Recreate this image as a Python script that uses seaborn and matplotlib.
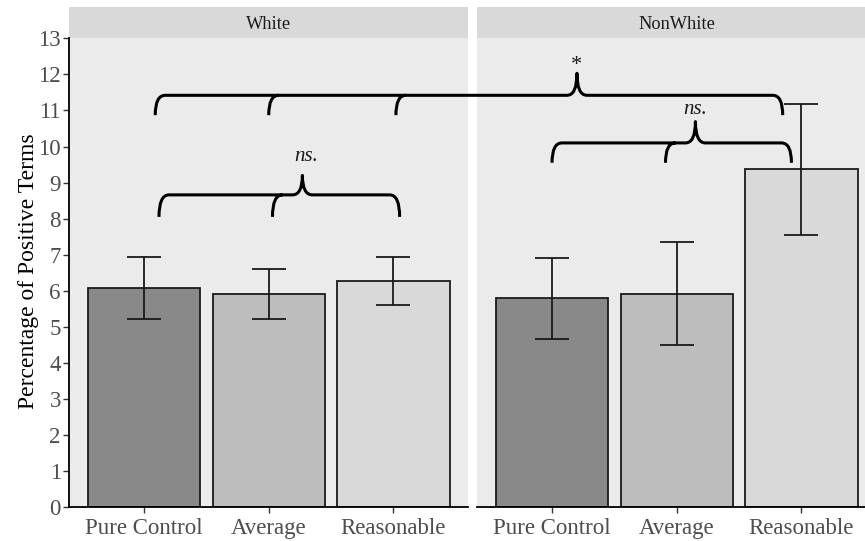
import numpy as np
import pandas as pd
import matplotlib
matplotlib.use('Agg')
import matplotlib.pyplot as plt
import seaborn as sns
from matplotlib.path import Path
from matplotlib.patches import PathPatch, Rectangle

# Data
conditions = ['Pure Control', 'Average', 'Reasonable']
panels = ['White', 'NonWhite']
white_mean = [6.07, 5.91, 6.28]
white_lo = [5.21, 5.23, 5.62]
white_hi = [6.95, 6.60, 6.95]
nonwhite_mean = [5.79, 5.92, 9.38]
nonwhite_lo = [4.66, 4.49, 7.56]
nonwhite_hi = [6.91, 7.34, 11.19]
bar_colors = ['#898989', '#bdbdbd', '#d9d9d9']

df = pd.DataFrame({
    'Race': ['White'] * 3 + ['NonWhite'] * 3,
    'Condition': conditions * 2,
    'Mean': white_mean + nonwhite_mean,
    'Lo': white_lo + nonwhite_lo,
    'Hi': white_hi + nonwhite_hi,
})

sns.set_style('white')
plt.rcParams['font.family'] = ['Liberation Serif', 'DejaVu Serif']

W, H = 865, 541
fig = plt.figure(figsize=(W / 100, H / 100), dpi=100)

# panel geometry in pixels
unit = 124.7
left_px = [69.2, 477.2]
panel_w = 3.2 * unit
y0_px, y1_px = 507.3, 38.3
axes = []
for lp in left_px:
    ax = fig.add_axes([lp / W, (H - y0_px) / H, panel_w / W, (y0_px - y1_px) / H])
    axes.append(ax)

for i, (ax, race) in enumerate(zip(axes, panels)):
    sub = df[df['Race'] == race]
    sns.barplot(data=sub, x='Condition', y='Mean', hue='Condition', order=conditions,
                hue_order=conditions, palette=bar_colors, width=0.9, errorbar=None,
                edgecolor='#1a1a1a', linewidth=1.3, legend=False, ax=ax)
    xs = np.arange(len(conditions))
    ax.errorbar(xs, sub['Mean'], yerr=[sub['Mean'] - sub['Lo'], sub['Hi'] - sub['Mean']],
                fmt='none', ecolor='#1a1a1a', elinewidth=1.3, capsize=12, capthick=1.3)
    ax.set_facecolor('#ebebeb')
    ax.set_xlim(-0.6, 2.6)
    ax.set_ylim(0, 13)
    ax.set_yticks(range(0, 14))
    ax.set_xlabel('')
    ax.set_ylabel('')
    for s in ax.spines.values():
        s.set_visible(False)
    ax.spines['bottom'].set_visible(True)
    ax.spines['bottom'].set_color('black')
    ax.spines['bottom'].set_linewidth(1.3)
    ax.tick_params(axis='both', length=4, width=1, color='#333333',
                   labelsize=16.5, labelcolor='#4d4d4d', pad=2)
    ax.tick_params(axis='x', bottom=True, pad=4)
    if i == 0:
        ax.spines['left'].set_visible(True)
        ax.spines['left'].set_color('black')
        ax.spines['left'].set_linewidth(1.3)
        ax.tick_params(axis='y', left=True)
    else:
        ax.set_yticklabels([])
        ax.tick_params(axis='y', left=False)
    # facet strip
    strip_h = 31 / (y0_px - y1_px)
    ax.add_patch(Rectangle((0, 1), 1, strip_h, transform=ax.transAxes,
                           facecolor='#d9d9d9', edgecolor='none', clip_on=False))
    ax.text(0.5, 1 + strip_h / 2 - 0.004, race, transform=ax.transAxes, ha='center',
            va='center', fontsize=13.2, color='#1a1a1a')

fig.text(29 / W, 1 - 271 / H, 'Percentage of Positive Terms', rotation=90,
         ha='center', va='center', fontsize=17, color='black')

# left panel on top so the wide brace is drawn over the right panel
axes[0].set_zorder(3)

# offset to express right-panel x in left-panel data units
shift = (left_px[1] - left_px[0]) / unit


def brace(ax, x0, x1, y_line, y_end, tip_x, tip_y, hooks, dx=0.08):
    verts, codes = [], []
    verts += [(x0, y_end), (x0, y_line), (x0 + dx, y_line)]
    codes += [Path.MOVETO, Path.CURVE3, Path.CURVE3]
    verts += [(tip_x - dx, y_line), (tip_x, y_line), (tip_x, tip_y)]
    codes += [Path.LINETO, Path.CURVE3, Path.CURVE3]
    verts += [(tip_x, y_line), (tip_x + dx, y_line)]
    codes += [Path.CURVE3, Path.CURVE3]
    verts += [(x1 - dx, y_line), (x1, y_line), (x1, y_end)]
    codes += [Path.LINETO, Path.CURVE3, Path.CURVE3]
    for h in hooks:
        verts += [(h + dx, y_line), (h, y_line), (h, y_end)]
        codes += [Path.MOVETO, Path.CURVE3, Path.CURVE3]
    ax.add_patch(PathPatch(Path(verts, codes), fill=False, edgecolor='black',
                           linewidth=2.2, clip_on=False, capstyle='butt',
                           joinstyle='round', zorder=5))


axL, axR = axes
# White: ns.
brace(axL, 0.12, 2.05, 8.66, 8.05, 1.27, 9.2, [1.03])
axL.text(1.30, 9.72, 'ns.', ha='center', va='center', fontsize=15, style='italic',
         color='#1a1a1a')
# NonWhite: ns.
brace(axR, 0.0, 1.92, 10.1, 9.55, 1.15, 10.69, [0.91])
axR.text(1.15, 11.02, 'ns.', ha='center', va='center', fontsize=15, style='italic',
         color='#1a1a1a')
# across panels: *
brace(axL, 0.09, shift + 1.85, 11.42, 10.87, shift + 0.2, 12.03, [1.0, 2.02])
axL.text(shift + 0.2, 12.25, '*', ha='center', va='center', fontsize=16,
         color='#1a1a1a', clip_on=False)

fig.savefig('out.png', dpi=100)
